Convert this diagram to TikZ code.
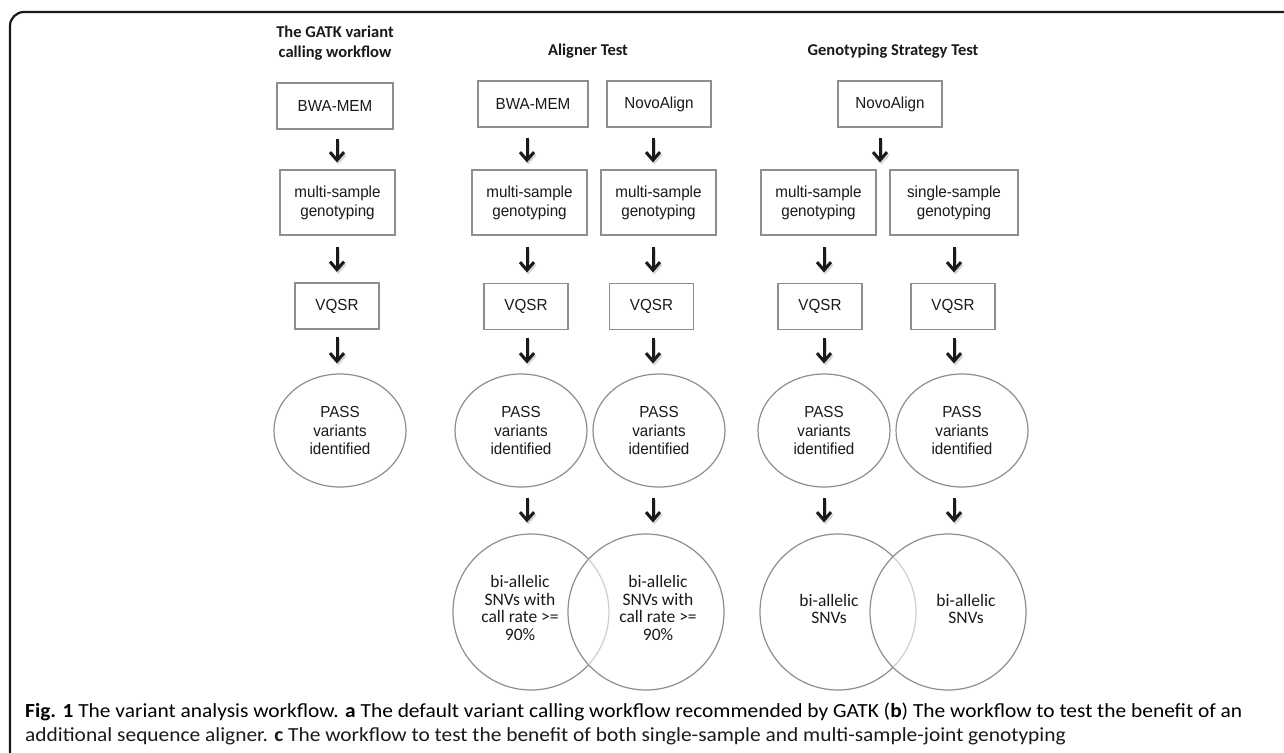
\documentclass[tikz,border=0pt]{standalone}
\usepackage{fontspec}
\usepackage{graphicx}
\setmainfont{Liberation Sans}
\newfontfamily\calfont{Carlito}
\newfontfamily\boxfont[FakeStretch=0.95]{Liberation Sans}
\usetikzlibrary{arrows.meta,shapes.geometric}
\definecolor{boxgray}{HTML}{8E8E8E}
\definecolor{inkblack}{HTML}{1A1A1A}
\definecolor{lightarc}{HTML}{CFCFCF}
\newsavebox\caponebox
\sbox\caponebox{\calfont\fontsize{20pt}{24pt}\selectfont\textbf{Fig. 1} The variant analysis workflow. \textbf{a} The default variant calling workflow recommended by GATK (\textbf{b}) The workflow to test the benefit of an}
\newlength\caponelen
\setlength\caponelen{\wd\caponebox}
\begin{document}
\begin{tikzpicture}[x=1pt,y=-1pt,
  box/.style={draw=boxgray, line width=1.2pt, align=center, inner sep=0pt, text=inkblack,
    font=\boxfont\fontsize{16pt}{19pt}\selectfont},
  oval/.style={ellipse, draw=boxgray, line width=1.2pt, minimum width=132pt, minimum height=113pt,
    inner sep=0pt, align=center, text=inkblack, font=\boxfont\fontsize{16pt}{18.5pt}\selectfont},
  bigc/.style={circle, draw=boxgray, line width=1.2pt, minimum size=156pt, inner sep=0pt},
  ctext/.style={align=center, inner sep=0pt, text=inkblack, font=\calfont\fontsize{17.5pt}{17.8pt}\selectfont},
  ttl/.style={align=center, inner sep=0pt, text=inkblack, font=\calfont\bfseries\fontsize{16.5pt}{20pt}\selectfont},
  arr/.style={-{Straight Barb[length=8pt,width=14pt]}, line width=3pt, draw=inkblack},
  shd/.style={arr, draw=black!16, transform canvas={shift={(1.3pt,-2.2pt)}}},
  capline/.style={anchor=base west, inner sep=0pt, text=inkblack}
]
\useasboundingbox (0,0) rectangle (1284,752);
\fill[white] (0,0) rectangle (1284,752);
% frame
\draw[line width=2.2pt, inkblack, rounded corners=14pt] (10,770) -- (10,12) -- (1300,12);

% titles
\node[ttl] (tA) at (335,43) {The GATK variant\\calling workflow};
\node[ttl] (tB) at (588,51) {Aligner Test};
\node[ttl] (tC) at (893,51) {Genotyping Strategy Test};

% top row
\node[box, minimum width=116pt, minimum height=46pt] (topA) at (335,106) {BWA-MEM};
\node[box, minimum width=110pt, minimum height=46pt] (topB1) at (533,104) {BWA-MEM};
\node[box, minimum width=104pt, minimum height=46pt] (topB2) at (659,104) {NovoAlign};
\node[box, minimum width=104pt, minimum height=46pt] (topC) at (890,104) {NovoAlign};

% genotyping row
\node[box, minimum width=115pt, minimum height=65pt] (genA) at (337.5,202.5) {multi-sample\\genotyping};
\node[box, minimum width=115pt, minimum height=65pt] (genB1) at (529.5,202.5) {multi-sample\\genotyping};
\node[box, minimum width=115pt, minimum height=65pt] (genB2) at (658.5,202.5) {multi-sample\\genotyping};
\node[box, minimum width=115pt, minimum height=65pt] (genC1) at (818.5,202.5) {multi-sample\\genotyping};
\node[box, minimum width=128pt, minimum height=65pt] (genC2) at (954,202.5) {single-sample\\genotyping};

% VQSR row
\node[box, minimum width=84pt, minimum height=46pt] (vqA) at (337,306) {VQSR};
\node[box, minimum width=84pt, minimum height=46pt] (vqB1) at (526,306.5) {VQSR};
\node[box, minimum width=84pt, minimum height=46pt] (vqB2) at (651.5,306.5) {VQSR};
\node[box, minimum width=84pt, minimum height=46pt] (vqC1) at (820,306.5) {VQSR};
\node[box, minimum width=84pt, minimum height=46pt] (vqC2) at (953,306.5) {VQSR};

% PASS ovals
\node[oval] (pA) at (340,430.5) {PASS\\variants\\identified};
\node[oval] (pB1) at (521,430.5) {PASS\\variants\\identified};
\node[oval] (pB2) at (659,430.5) {PASS\\variants\\identified};
\node[oval] (pC1) at (824,430.5) {PASS\\variants\\identified};
\node[oval] (pC2) at (962,430.5) {PASS\\variants\\identified};

% bottom circles
\node[bigc] (bB1) at (531,612) {};
\node[bigc] (bB2) at (646,612) {};
\node[bigc] (bC1) at (838,612) {};
\node[bigc] (bC2) at (948,612) {};
\begin{scope}
  \clip (646,612) circle (77.4);
  \draw[white, line width=2.6pt] (531,612) circle (78);
  \draw[lightarc, line width=1.2pt] (531,612) circle (78);
\end{scope}
\begin{scope}
  \clip (948,612) circle (77.4);
  \draw[white, line width=2.6pt] (838,612) circle (78);
  \draw[lightarc, line width=1.2pt] (838,612) circle (78);
\end{scope}
\node[ctext] (sB1) at (520,608) {bi-allelic\\SNVs with\\call rate >=\\90\%};
\node[ctext] (sB2) at (658,608) {bi-allelic\\SNVs with\\call rate >=\\90\%};
\node[ctext] (sC1) at (829,609) {bi-allelic\\SNVs};
\node[ctext] (sC2) at (966,609) {bi-allelic\\SNVs};

% arrow columns
\coordinate (xA) at (337,0);
\coordinate (xB1) at (527,0);
\coordinate (xB2) at (653,0);
\coordinate (xC1) at (824,0);
\coordinate (xC2) at (954,0);
\coordinate (xCt) at (880,0);

\foreach \u/\l/\c/\s/\e in {topA/genA/xA/9/7, topB1/genB1/xB1/10/7, topB2/genB2/xB2/10/7, topC/genC1/xCt/10/7,
  genA/vqA/xA/11/10.5, genB1/vqB1/xB1/11/10.5, genB2/vqB2/xB2/11/10.5, genC1/vqC1/xC1/11/10.5, genC2/vqC2/xC2/11/10.5,
  vqA/pA/xA/7.5/10, vqB1/pB1/xB1/7.5/10, vqB2/pB2/xB2/7.5/10, vqC1/pC1/xC1/7.5/10, vqC2/pC2/xC2/7.5/10,
  pB1/bB1/xB1/10/11, pB2/bB2/xB2/10/11, pC1/bC1/xC1/10/11, pC2/bC2/xC2/10/11}{
  \draw[shd, shorten <=\s pt, shorten >=\e pt] (\u.south -| \c) -- (\l.north -| \c);
  \draw[arr, shorten <=\s pt, shorten >=\e pt] (\u.south -| \c) -- (\l.north -| \c);
}

% caption
\pgfmathsetmacro\capfac{1217/\caponelen}
\node[capline] (cap1) at (25,717) {\scalebox{\capfac}[1]{\usebox\caponebox}};
\node[capline] (cap2) at (25,741) {\scalebox{\capfac}[1]{\calfont\fontsize{20pt}{24pt}\selectfont additional sequence aligner. \textbf{c} The workflow to test the benefit of both single-sample and multi-sample-joint genotyping}};
\end{tikzpicture}
\end{document}
